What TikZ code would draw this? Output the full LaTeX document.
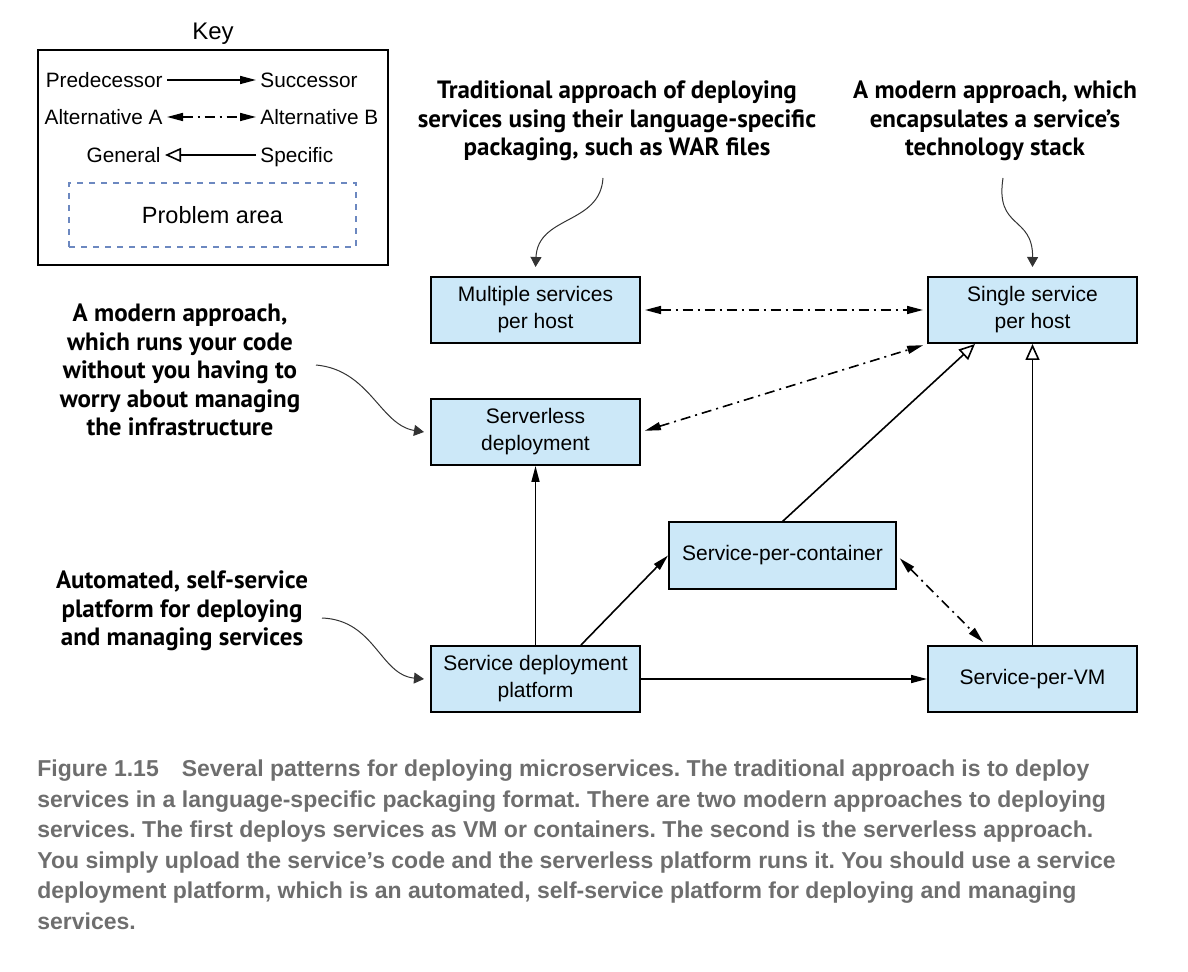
\documentclass[tikz,border=0pt]{standalone}
\usepackage{fontspec}
\setmainfont{Liberation Sans}
\newfontfamily\notefont{PT Sans}
\usetikzlibrary{positioning,arrows.meta,calc}
\definecolor{boxblue}{HTML}{CCE8F8}
\definecolor{capgrey}{HTML}{6E6E6E}
\definecolor{probblue}{HTML}{6C88C0}
\definecolor{calloutgrey}{HTML}{333333}
\tikzset{
  pat/.style    ={rectangle, draw=black, line width=1pt, fill=boxblue, align=center,
                  font=\fontsize{10.5}{13.5}\selectfont,
                  minimum width=104.5pt, minimum height=33pt, inner sep=2pt},
  note/.style   ={align=center, font=\notefont\bfseries\fontsize{12.5}{14.25}\selectfont},
  keytxt/.style ={font=\fontsize{10.4}{12}\selectfont, inner sep=2pt, text height=7.5pt, text depth=0pt},
  succ/.style   ={-{Triangle[length=8pt,width=4pt]}, line width=0.8pt},
  alt/.style    ={{Triangle[length=8pt,width=4pt]}-{Triangle[length=8pt,width=4pt]}, line width=0.8pt,
                  dash pattern=on 5pt off 2.5pt on 1pt off 2.5pt, shorten <=2pt, shorten >=2pt},
  gen/.style    ={-{Triangle[open,length=8pt,width=7pt]}, line width=0.8pt},
  callout/.style={-{Triangle[length=5pt,width=5.5pt]}, line width=0.5pt, draw=calloutgrey}
}

\begin{document}
\begin{tikzpicture}[x=0.5pt,y=-0.5pt]
  \useasboundingbox (0,0) rectangle (1188,972);

  % key
  \node[draw, line width=1pt, minimum width=175pt, minimum height=107.5pt] (key) at (213,157.5) {};
  \node[font=\fontsize{12}{14}\selectfont] (keytitle) at (213,34) {Key};
  \node[keytxt, anchor=east] (pred) at (167,80) {Predecessor};
  \node[keytxt, anchor=west] (succ) at (256,80) {Successor};
  \node[keytxt, anchor=east] (alta) at (167,117) {Alternative A};
  \node[keytxt, anchor=west] (altb) at (256,117) {Alternative B};
  \node[keytxt, anchor=east] (gnrl) at (165,155) {General};
  \node[keytxt, anchor=west] (spec) at (256,155) {Specific};
  \node[draw=probblue, dashed, line width=0.75pt, minimum width=143.5pt, minimum height=32pt,
        font=\fontsize{11.75}{13}\selectfont] (prob) at (212.5,215) {Problem area};
  \draw[succ] (pred) -- (succ);
  \draw[alt, shorten <=0pt, shorten >=0pt] (alta) -- (altb);
  \draw[gen] (spec) -- (gnrl);

  % patterns
  \node[pat] (multi)      at (535.5,310)   {Multiple services\\per host};
  \node[pat] (single)     at (1032.5,310)  {Single service\\per host};
  \node[pat] (serverless) at (535.5,432)   {Serverless\\deployment};
  \node[pat, minimum width=113.5pt] (container) at (782.5,555.5) {Service-per-container};
  \node[pat] (platform)   at (535.5,679)   {Service deployment\\platform};
  \node[pat] (vm)         at (1032.5,679)  {Service-per-VM};

  \draw[alt] (multi) -- (single);
  \draw[alt] (serverless.east) -- (single.south west);
  \draw[alt] (container.east) -- ([xshift=-23.25pt]vm.north);
  \draw[succ] (platform) -- (serverless);
  \draw[succ] ([xshift=22.75pt]platform.north) -- (container.west);
  \draw[succ] (platform) -- (vm);
  \draw[gen] (container.north) -- ([xshift=-28.75pt]single.south);
  \draw[gen] (vm) -- (single);

  % notes
  \node[note] (tradnote) at (617,121) {Traditional approach of deploying\\services using their language-specific\\packaging, such as WAR files};
  \node[note] (modnote) at (995,121) {A modern approach, which\\encapsulates a service’s\\technology stack};
  \node[note] (srvnote) at (180,370) {A modern approach,\\which runs your code\\without you having to\\worry about managing\\the infrastructure};
  \node[note] (platnote) at (182,611) {Automated, self-service\\platform for deploying\\and managing services};
  \coordinate (tradtail) at (603,178);
  \coordinate (modtail) at (1003,178);
  \coordinate (srvtail) at (316,365);
  \coordinate (plattail) at (322,618);
  \draw[callout] (tradtail) .. controls (600,225) and (538,215) .. ([yshift=4.5pt]multi.north);
  \draw[callout] (modtail) .. controls (995,230) and (1033,215) .. ([yshift=4.5pt]single.north);
  \draw[callout] (srvtail) .. controls (370,370) and (380,425) .. ([xshift=-3pt]serverless.west);
  \draw[callout] (plattail) .. controls (375,620) and (380,675) .. ([xshift=-3pt]platform.west);

  % caption
  \node[anchor=base west, align=left, text=capgrey, inner sep=0pt,
        font=\frenchspacing\bfseries\fontsize{11.5}{15.25}\selectfont] (caption) at (37,929)
    {Figure 1.15\quad Several patterns for deploying microservices. The traditional approach is to deploy\\
     services in a language-specific packaging format. There are two modern approaches to deploying\\
     services. The first deploys services as VM or containers. The second is the serverless approach.\\
     You simply upload the service’s code and the serverless platform runs it. You should use a service\\
     deployment platform, which is an automated, self-service platform for deploying and managing\\
     services.};
\end{tikzpicture}
\end{document}
